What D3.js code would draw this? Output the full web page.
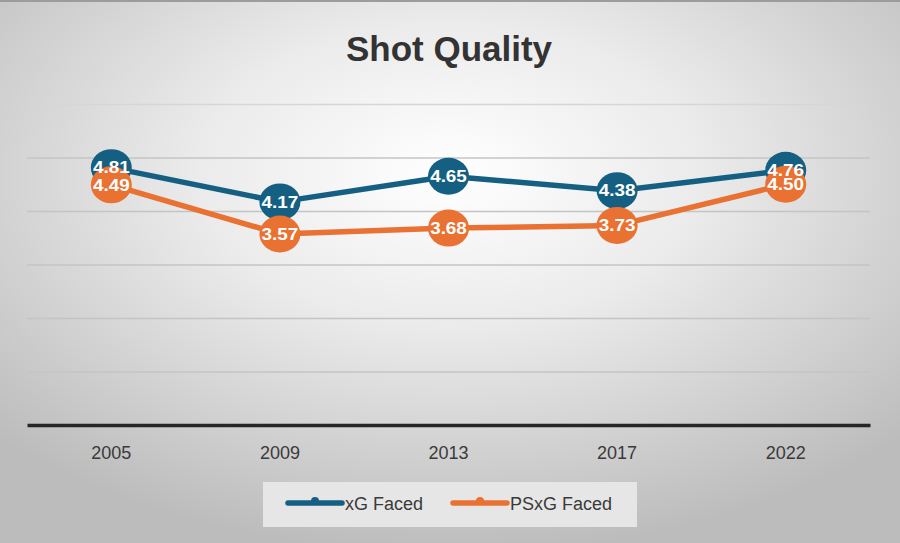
<!DOCTYPE html>
<html>
<head>
<meta charset="utf-8">
<script src="https://cdn.jsdelivr.net/npm/d3@7"></script>
<style>
  html, body { margin: 0; padding: 0; background: #fff; }
  svg { display: block; }
</style>
</head>
<body>
<div id="chart"></div>
<script>
const years = ["2005", "2009", "2013", "2017", "2022"];
const xgFaced = [4.81, 4.17, 4.65, 4.38, 4.76];
const psxgFaced = [4.49, 3.57, 3.68, 3.73, 4.50];
const yTicks = [1, 2, 3, 4, 5, 6];
const seriesNames = ["xG Faced", "PSxG Faced"];
const seriesColors = ["#156082", "#E97132"];

const W = 900, H = 543;
const font = "'Liberation Sans', Arial, sans-serif";

const svg = d3.select("#chart").append("svg")
    .attr("width", W)
    .attr("height", H);

// background gradient
const defs = svg.append("defs");
const grad = defs.append("radialGradient")
    .attr("id", "bg")
    .attr("cx", "50%").attr("cy", "32%").attr("r", "70%");
grad.append("stop").attr("offset", "0%").attr("stop-color", "#ffffff");
grad.append("stop").attr("offset", "40%").attr("stop-color", "#ebebeb");
grad.append("stop").attr("offset", "100%").attr("stop-color", "#bcbcbc");

svg.append("rect")
    .attr("width", W).attr("height", H)
    .attr("fill", "url(#bg)");
svg.append("line")
    .attr("x1", 0).attr("x2", W).attr("y1", 1).attr("y2", 1)
    .attr("stroke", "#9c9c9c").attr("stroke-width", 2);

// title
svg.append("text")
    .attr("x", 449).attr("y", 61)
    .attr("text-anchor", "middle")
    .attr("font-family", font)
    .attr("font-weight", "bold")
    .attr("font-size", 35)
    .attr("fill", "#333333")
    .text("Shot Quality");

const plot = {left: 27, right: 870, top: 104, bottom: 425};

const x = d3.scaleBand().domain(years).range([plot.left, plot.right]);
const cx = d => x(d) + x.bandwidth() / 2;
const y = d3.scaleLinear().domain([0, 6]).range([plot.bottom, plot.top]);

// gridlines
svg.append("g")
    .attr("transform", `translate(${plot.left},0)`)
    .call(d3.axisLeft(y).tickValues(yTicks).tickSize(-(plot.right - plot.left)).tickFormat(""))
    .call(g => g.select(".domain").remove())
    .call(g => g.selectAll(".tick line")
        .attr("stroke", (d) => d === 6 ? "#d6d6d6" : "#c4c4c4")
        .attr("stroke-width", 1.5));

// x axis
svg.append("g")
    .attr("transform", `translate(0,${plot.bottom})`)
    .call(d3.axisBottom(x).tickSize(0).tickPadding(21))
    .call(g => g.select(".domain")
        .attr("stroke", "#262626")
        .attr("stroke-width", 3.5))
    .call(g => g.selectAll(".tick text")
        .attr("font-family", font)
        .attr("font-size", 18)
        .attr("fill", "#3a3a3a"));

const series = [xgFaced, psxgFaced];
const line = d3.line()
    .x((d, i) => cx(years[i]))
    .y(d => y(d));

series.forEach((vals, s) => {
    svg.append("path")
        .datum(vals)
        .attr("fill", "none")
        .attr("stroke", seriesColors[s])
        .attr("stroke-width", 5.5)
        .attr("stroke-linejoin", "round")
        .attr("d", line);

    svg.selectAll(".mk" + s)
        .data(vals)
        .join("ellipse")
        .attr("class", "mk" + s)
        .attr("cx", (d, i) => cx(years[i]))
        .attr("cy", d => y(d))
        .attr("rx", 20.5)
        .attr("ry", 18.5)
        .attr("fill", seriesColors[s]);
});

series.forEach((vals, s) => {
    svg.selectAll(".lb" + s)
        .data(vals)
        .join("text")
        .attr("class", "lb" + s)
        .attr("transform", (d, i) => `translate(${cx(years[i])},${y(d)}) scale(1.18,1)`)
        .attr("dy", "0.36em")
        .attr("text-anchor", "middle")
        .attr("font-family", font)
        .attr("font-weight", "bold")
        .attr("font-size", 16)
        .attr("fill", "#ffffff")
        .text(d => d.toFixed(2));
});

// legend
const lg = svg.append("g");
lg.append("rect")
    .attr("x", 263).attr("y", 482)
    .attr("width", 374).attr("height", 45)
    .attr("fill", "#e6e6e6");

const legendX = [288, 453];
seriesNames.forEach((name, s) => {
    const g = lg.append("g").attr("transform", `translate(${legendX[s]},503)`);
    g.append("line")
        .attr("x1", 0).attr("x2", 54)
        .attr("stroke", seriesColors[s])
        .attr("stroke-width", 5.5)
        .attr("stroke-linecap", "round");
    g.append("circle")
        .attr("cx", 27).attr("cy", -2)
        .attr("r", 4)
        .attr("fill", seriesColors[s]);
    g.append("text")
        .attr("x", 57).attr("y", 6.5)
        .attr("font-family", font)
        .attr("font-size", 18)
        .attr("fill", "#3a3a3a")
        .text(name);
});
</script>
</body>
</html>
